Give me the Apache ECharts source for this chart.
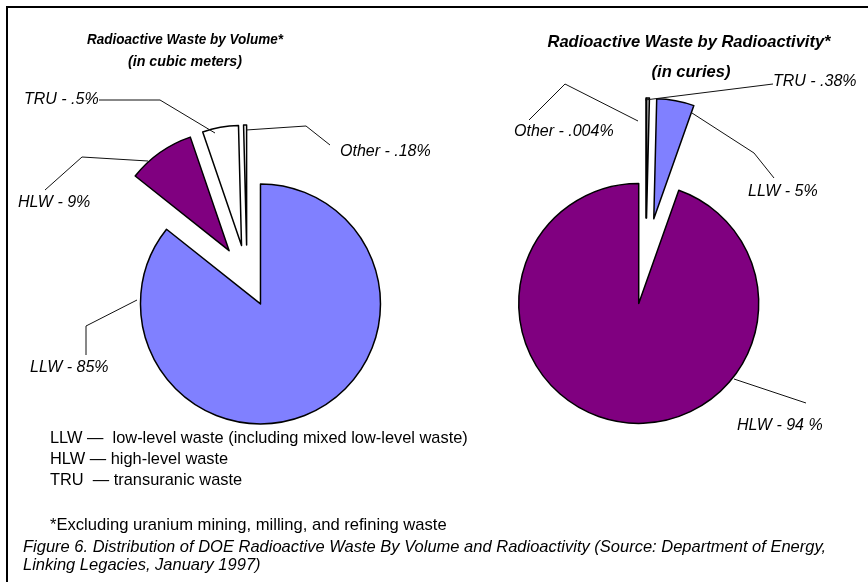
<!DOCTYPE html>
<html>
<head>
<meta charset="utf-8">
<script src="https://cdn.jsdelivr.net/npm/echarts@6/dist/echarts.min.js"></script>
<style>
  html, body { margin: 0; padding: 0; background: #fff; }
  #frame { position: absolute; left: 6px; top: 6px; width: 900px; height: 600px;
           border-left: 2px solid #000; border-top: 2px solid #000; }
  #chart { position: absolute; left: 0; top: 0; width: 868px; height: 582px; }
</style>
</head>
<body>
<div id="frame"></div>
<div id="chart"></div>
<script>
// left pie: waste by volume (slice sizes as drawn in the figure)
const volumeCategories = ['LLW', 'HLW', 'TRU', 'Other']
const volumeShare = [85, 9, 4.8, 0.4]
const volumeLabels = ['LLW - 85%', 'HLW - 9%', 'TRU - .5%', 'Other - .18%']
const volumeColors = ['#8080ff', '#800080', '#ffffff', '#ffffff']

// right pie: waste by radioactivity
const activityCategories = ['Other', 'TRU', 'LLW', 'HLW']
const activityShare = [0.004, 0.38, 5, 94]
const activityLabels = ['Other - .004%', 'TRU - .38%', 'LLW - 5%', 'HLW - 94 %']
const activityColors = ['#000000', '#c0c0c0', '#8080ff', '#800080']

// label anchors and leader lines (layout only)
const volumeLabelPos = [[30, 368], [18, 203], [24, 100], [340, 152]]
const volumeLeaders = [
  [[137, 300], [86, 326], [86, 355]],
  [[148, 161], [82, 157], [45, 190]],
  [[215, 133], [160, 100], [99, 100]],
  [[246, 130], [306, 126], [330, 145]]
]
const activityLabelPos = [[514, 132], [773, 82], [748, 192], [737, 426]]
const activityLeaders = [
  [[638, 121], [565, 84], [529, 120]],
  [[645, 100], [709, 92], [773, 84]],
  [[692, 113], [754, 153], [774, 178]],
  [[734, 379], [770, 391], [806, 403]]
]

const legendLines = [
  'LLW \u2014  low-level waste (including mixed low-level waste)',
  'HLW \u2014 high-level waste',
  'TRU  \u2014 transuranic waste'
]
const footnote = '*Excluding uranium mining, milling, and refining waste'
const caption = [
  'Figure 6. Distribution of DOE Radioactive Waste By Volume and Radioactivity (Source: Department of Energy,',
  'Linking Legacies, January 1997)'
]

const chart = echarts.init(document.getElementById('chart'), null, { renderer: 'canvas' })

const font = 'Arial, "Liberation Sans", sans-serif'

// exploded slices (all slices pulled out)
function slicesSeries(cats, values, colors, center, offset) {
  return {
    type: 'pie',
    center: center,
    radius: 120,
    startAngle: 90,
    clockwise: true,
    silent: true,
    selectedMode: 'multiple',
    selectedOffset: offset,
    label: { show: false },
    labelLine: { show: false },
    data: cats.map((c, i) => ({
      name: c,
      value: values[i],
      selected: true,
      itemStyle: { color: colors[i] }
    })),
    itemStyle: { borderColor: '#000', borderWidth: 1.5 }
  }
}

// same data, transparent, only carries the callout labels
function labelSeries(cats, values, labels, center, labelPos, leaders) {
  return {
    type: 'pie',
    center: center,
    radius: 120,
    startAngle: 90,
    clockwise: true,
    silent: true,
    avoidLabelOverlap: false,
    z: 3,
    data: cats.map((c, i) => ({ name: c, value: values[i] })),
    itemStyle: { color: 'rgba(0,0,0,0)', borderWidth: 0 },
    label: {
      show: true,
      formatter: p => labels[p.dataIndex],
      fontFamily: font,
      fontStyle: 'italic',
      fontSize: 16,
      color: '#000'
    },
    labelLine: { show: true, lineStyle: { color: '#111', width: 1 } },
    labelLayout: p => ({
      x: labelPos[p.dataIndex][0],
      y: labelPos[p.dataIndex][1],
      align: 'left',
      verticalAlign: 'middle',
      labelLinePoints: leaders[p.dataIndex]
    })
  }
}

const txt = (x, y, text, f, align, sx) => ({
  type: 'text', x: x, y: y, scaleX: sx || 1,
  style: { text: text, fill: '#000', font: f, textAlign: align || 'left', textVerticalAlign: 'middle' }
})

chart.setOption({
  animation: false,
  backgroundColor: 'transparent',
  graphic: [
    txt(185, 40, 'Radioactive Waste by Volume*', 'italic bold 15px ' + font, 'center', 0.9),
    txt(185, 62, '(in cubic meters)', 'italic bold 15px ' + font, 'center', 0.95),
    txt(689, 42, 'Radioactive Waste by Radioactivity*', 'italic bold 16.5px ' + font, 'center'),
    txt(691, 72, '(in curies)', 'italic bold 16.5px ' + font, 'center'),
    ...legendLines.map((t, i) => txt(50, 438 + i * 21, t, '16.4px ' + font)),
    txt(50, 525, footnote, '16.6px ' + font),
    ...caption.map((t, i) => txt(23, 547 + i * 18, t, 'italic 16.5px ' + font))
  ],
  series: [
    slicesSeries(volumeCategories, volumeShare, volumeColors, [247, 276], 31),
    slicesSeries(activityCategories, activityShare, activityColors, [646, 261], 43),
    labelSeries(volumeCategories, volumeShare, volumeLabels, [247, 276], volumeLabelPos, volumeLeaders),
    labelSeries(activityCategories, activityShare, activityLabels, [646, 261], activityLabelPos, activityLeaders)
  ]
})
</script>
</body>
</html>
